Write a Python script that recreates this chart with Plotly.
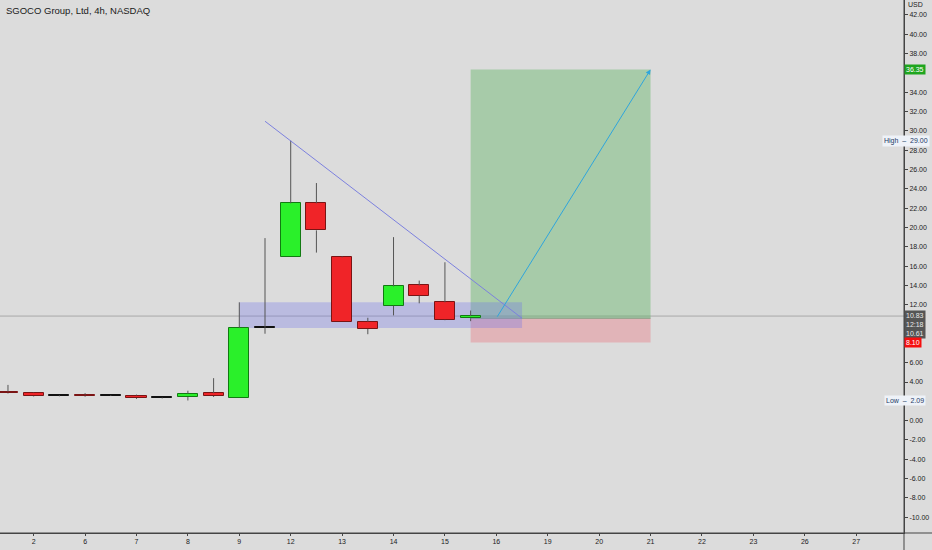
import plotly.graph_objects as go

# ---------------- data ----------------
bar_index = list(range(19))
opens  = [3.00, 2.90, 2.60, 2.70, 2.60, 2.60, 2.35, 2.45, 2.85, 2.30, 9.60, 16.90, 22.50, 16.90, 10.25, 11.90, 14.00, 12.25, 10.61]
highs  = [3.70, 2.95, 2.65, 2.85, 2.65, 2.70, 2.40, 3.10, 4.40, 12.25, 18.90, 29.00, 24.60, 17.00, 10.65, 19.00, 14.50, 16.40, 11.40]
lows   = [2.80, 2.50, 2.52, 2.48, 2.55, 2.25, 2.30, 2.09, 2.45, 2.30, 9.00, 16.90, 17.40, 10.20, 8.95, 10.90, 12.15, 10.40, 10.30]
closes = [2.85, 2.55, 2.60, 2.58, 2.60, 2.35, 2.35, 2.80, 2.55, 9.60, 9.62, 22.50, 19.70, 10.20, 9.50, 13.90, 12.95, 10.45, 10.83]

xtick_index = [1, 3, 5, 7, 9, 11, 13, 15, 17, 19, 21, 23, 25, 27, 29, 31, 33]
xtick_labels = ["2", "6", "7", "8", "9", "12", "13", "14", "15", "16", "19", "20", "21", "22", "23", "26", "27"]
# price-scale ticks visible (those hidden behind the price tags are left out)
ytick_values = [-10, -8, -6, -4, -2, 0, 4, 6, 12, 14, 16, 18, 20, 22, 24, 26, 28, 30, 32, 34, 38, 40, 42]

# drawings (price / bar-index values)
zone_x = [9, 20]
zone_prices = [9.6, 12.25]
trend_x = [10, 20]
trend_prices = [31.0, 10.6]
trade_x = [18, 25]
entry_price = 10.61
target_price = 36.35
stop_price = 8.10
arrow_x = [19, 25]
last_price = 10.83
high_price = 29.00
low_price = 2.09

# ---------------- styling ----------------
BG = "#dcdcdc"
GREEN_FILL = "#2af02a"
GREEN_LINE = "#127a12"
RED_FILL = "#f02428"
RED_LINE = "#7a1414"
DOJI = "#111111"
WICK = "#555555"
FONT = "Liberation Sans"

body_low, body_h, fills, lines = [], [], [], []
for o, c in zip(opens, closes):
    lo, hi = min(o, c), max(o, c)
    body_low.append(lo)
    body_h.append(max(hi - lo, 0.08))
    if abs(c - o) < 0.05:
        fills.append(DOJI); lines.append(DOJI)
    elif c > o:
        fills.append(GREEN_FILL); lines.append(GREEN_LINE)
    else:
        fills.append(RED_FILL); lines.append(RED_LINE)

wx, wy = [], []
for i, o, h, l, c in zip(bar_index, opens, highs, lows, closes):
    top, bot = max(o, c), min(o, c)
    if h > top:
        wx += [i, i, None]; wy += [top, h, None]
    if l < bot:
        wx += [i, i, None]; wy += [l, bot, None]

fig = go.Figure()
fig.add_trace(go.Scatter(x=wx, y=wy, mode="lines", line=dict(color=WICK, width=1),
                         hoverinfo="skip", showlegend=False))
fig.add_trace(go.Bar(x=bar_index, y=body_h, base=body_low, width=0.78,
                     marker=dict(color=fills, line=dict(color=lines, width=1)),
                     showlegend=False))

shapes = [
    # long position: profit and stop zones
    dict(type="rect", xref="x", yref="y", x0=trade_x[0], x1=trade_x[1], y0=entry_price, y1=target_price,
         fillcolor="rgba(76,175,80,0.36)", line=dict(width=0), layer="below"),
    dict(type="rect", xref="x", yref="y", x0=trade_x[0], x1=trade_x[1], y0=stop_price, y1=entry_price,
         fillcolor="rgba(242,54,69,0.24)", line=dict(width=0), layer="below"),
    # last price line
    dict(type="line", xref="paper", yref="y", x0=0, x1=1, y0=last_price, y1=last_price,
         line=dict(color="#a8a8a8", width=1), layer="below"),
    dict(type="line", xref="x", yref="y", x0=trade_x[0], x1=trade_x[1], y0=entry_price, y1=entry_price,
         line=dict(color="#7f9a7f", width=1), layer="below"),
    # support zone
    dict(type="rect", xref="x", yref="y", x0=zone_x[0], x1=zone_x[1], y0=zone_prices[0], y1=zone_prices[1],
         fillcolor="rgba(110,112,235,0.30)", line=dict(width=0), layer="below"),
    # descending trend line
    dict(type="line", xref="x", yref="y", x0=trend_x[0], x1=trend_x[1], y0=trend_prices[0], y1=trend_prices[1],
         line=dict(color="#7c80de", width=1), layer="above"),
    # extended axis lines
    dict(type="line", xref="paper", yref="paper", x0=1, x1=1, y0=-0.04, y1=1,
         line=dict(color="#444444", width=1)),
    dict(type="line", xref="paper", yref="paper", x0=0, x1=1.04, y0=0, y1=0,
         line=dict(color="#444444", width=1)),
]

annotations = [
    dict(text="SGOCO Group, Ltd, 4h, NASDAQ", xref="paper", yref="paper", x=0.004, y=0.981,
         xanchor="left", yanchor="middle", showarrow=False, font=dict(family=FONT, size=9.5, color="#1a1a1a")),
    dict(text="USD", xref="paper", yref="paper", x=1.013, y=0.991, xanchor="center", yanchor="middle",
         showarrow=False, font=dict(family=FONT, size=7, color="#222222")),
    # projection arrow
    dict(x=arrow_x[1], y=target_price, ax=arrow_x[0], ay=entry_price, xref="x", yref="y",
         axref="x", ayref="y", text="", showarrow=True, arrowhead=2, arrowsize=1,
         arrowwidth=1, arrowcolor="#2fa5dc"),
    # price tags
    dict(text=f"{target_price:.2f}", xref="paper", yref="y", x=1.0, y=target_price, xanchor="left",
         yanchor="middle", showarrow=False, bgcolor="#1fa51f", borderpad=1,
         font=dict(family=FONT, size=7, color="white")),
    dict(text=f"{last_price:.2f}<br>12:18<br>{entry_price:.2f}", xref="paper", yref="y", x=1.0,
         y=last_price, yshift=6, xanchor="left", yanchor="top", showarrow=False, bgcolor="#555555",
         borderpad=1, font=dict(family=FONT, size=7, color="#e8e8e8")),
    dict(text=f"{stop_price:.2f}", xref="paper", yref="y", x=1.0, y=stop_price, xanchor="left",
         yanchor="middle", showarrow=False, bgcolor="#f50f0f", borderpad=1,
         font=dict(family=FONT, size=7, color="white")),
    dict(text=f"High  \u2012  {high_price:.2f}", xref="paper", yref="y", x=1.002, y=high_price,
         xanchor="center", yanchor="middle", showarrow=False, bgcolor="#eef2f8", borderpad=1,
         font=dict(family=FONT, size=7, color="#1d3b66")),
    dict(text=f"Low  \u2012  {low_price:.2f}", xref="paper", yref="y", x=1.001, y=low_price,
         xanchor="center", yanchor="middle", showarrow=False, bgcolor="#eef2f8", borderpad=1,
         font=dict(family=FONT, size=7, color="#1d3b66")),
]

fig.update_layout(
    width=932, height=550,
    margin=dict(l=0, r=28, t=0, b=17),
    paper_bgcolor=BG, plot_bgcolor=BG,
    showlegend=False,
    bargap=0,
    shapes=shapes,
    annotations=annotations,
    font=dict(family=FONT, size=7, color="#222222"),
    xaxis=dict(range=[-0.31, 34.86], tickvals=xtick_index, ticktext=xtick_labels,
               showgrid=False, zeroline=False, showline=True, linecolor="#444444",
               ticks="outside", ticklen=2, tickcolor="#444444",
               tickfont=dict(family=FONT, size=7, color="#222222")),
    yaxis=dict(side="right", range=[-11.63, 43.55], tickvals=ytick_values,
               ticktext=[f"{v:.2f}" for v in ytick_values],
               showgrid=False, zeroline=False, showline=True, linecolor="#444444",
               ticks="outside", ticklen=3, tickcolor="#444444", ticklabeloverflow="allow",
               tickfont=dict(family=FONT, size=7, color="#222222")),
)

fig.write_html("out.html", config={"displayModeBar": False},
               post_script="document.body.style.margin='0';document.body.style.overflow='hidden';")
